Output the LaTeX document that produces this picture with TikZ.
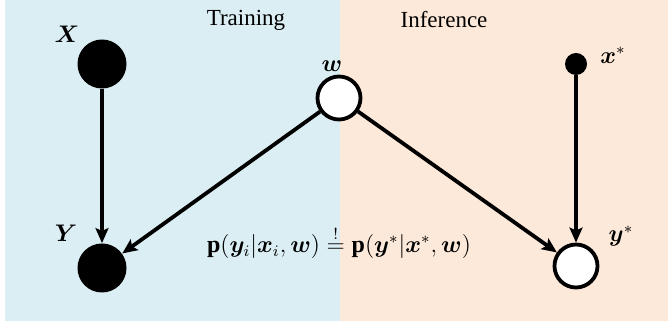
\documentclass[tikz,border=0pt]{standalone}
\usepackage{amsmath,bm}
\usepackage{fontspec}
\setmainfont{Liberation Serif}
\usetikzlibrary{arrows.meta}
\definecolor{trainbg}{HTML}{DAEEF3}
\definecolor{inferbg}{HTML}{FDE9D9}
\tikzset{
  obsnode/.style={circle,fill=black,draw=none,minimum size=24.5pt,inner sep=0pt},
  smallobs/.style={circle,fill=black,draw=none,minimum size=11pt,inner sep=0pt},
  latnode/.style={circle,fill=white,draw=black,line width=1.9pt,minimum size=21.5pt,inner sep=0pt},
  edge/.style={line width=1.9pt,-{Stealth[length=7.5pt,width=6.5pt,inset=1.5pt]}},
  lbl/.style={inner sep=0pt,font=\fontsize{12}{14}\selectfont},
  title/.style={inner sep=0pt,font=\fontsize{11.5}{13}\selectfont}
}
\begin{document}
\begin{tikzpicture}[x=0.5pt,y=-0.5pt]
\useasboundingbox (0,0) rectangle (668,324);
\fill[trainbg] (5,0) rectangle (340,321);
\fill[inferbg] (340,0) rectangle (668,321);
\node[title] (ttrain) at (246,20) {Training};
\node[title] (tinf) at (444,20) {Inference};
\node[obsnode] (X) at (102,64) {};
\node[obsnode] (Y) at (102,268) {};
\node[latnode] (w) at (339,98) {};
\node[smallobs] (xs) at (576,64) {};
\node[latnode] (ys) at (576,266) {};
\node[lbl] (lX) at (67,34) {$\bm{X}$};
\node[lbl] (lY) at (66,233) {$\bm{Y}$};
\node[lbl] (lw) at (332,66) {$\bm{w}$};
\node[lbl] (lxs) at (613,55) {$\bm{x}^{*}$};
\node[lbl] (lys) at (621,236) {$\bm{y}^{*}$};
\node[lbl] (eq) at (339,242) {$\mathbf{p}(\bm{y}_i|\bm{x}_i,\bm{w}) \stackrel{!}{=} \mathbf{p}(\bm{y}^{*}|\bm{x}^{*},\bm{w})$};
\draw[edge] (X) -- (Y);
\draw[edge] (w) -- (Y);
\draw[edge] (w) -- (ys);
\draw[edge] (xs) -- (ys);
\end{tikzpicture}
\end{document}
